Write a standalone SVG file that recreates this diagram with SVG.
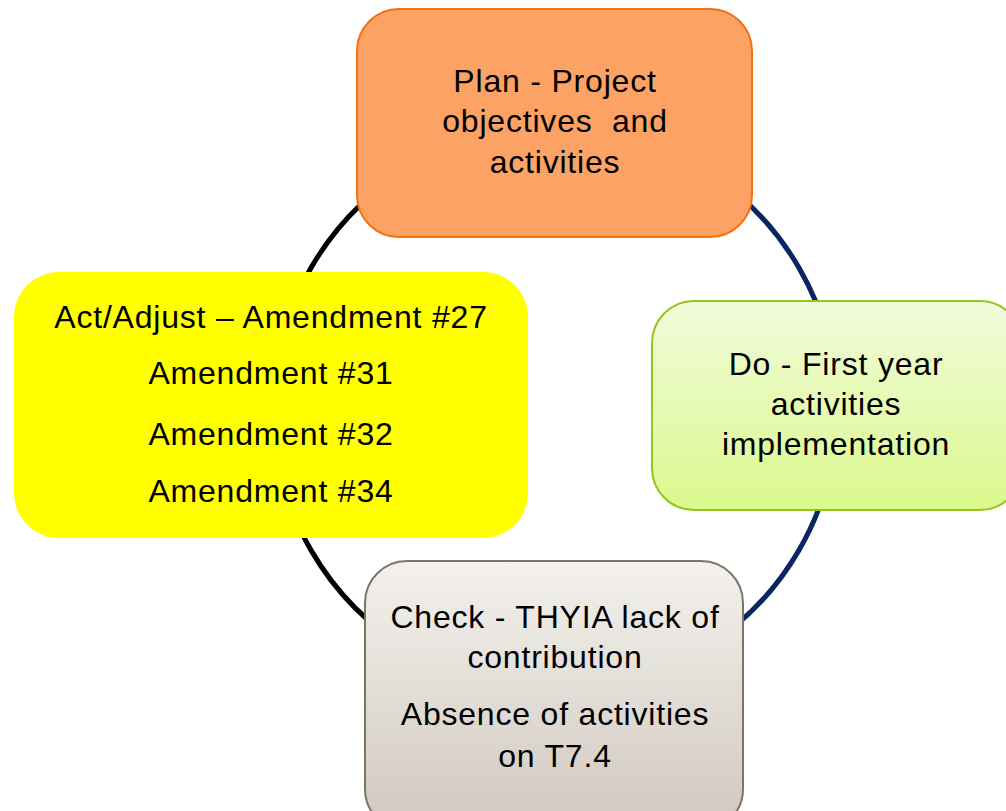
<svg xmlns="http://www.w3.org/2000/svg" width="1006" height="811" viewBox="0 0 1006 811">
<defs>
<linearGradient id="gDo" x1="0" y1="0" x2="0" y2="1">
<stop offset="0" stop-color="#F1FBDA"/>
<stop offset="1" stop-color="#DBF98C"/>
</linearGradient>
<linearGradient id="gCheck" x1="0" y1="0" x2="0" y2="1">
<stop offset="0" stop-color="#F3F1ED"/>
<stop offset="1" stop-color="#D0C8BF"/>
</linearGradient>
<style>
.t{font-family:"Liberation Sans",Arial,sans-serif;font-size:32px;fill:#000;text-anchor:middle;letter-spacing:0.8px;white-space:pre}
.dark{fill:none;stroke:#000;stroke-width:5}
.navy{fill:none;stroke:#0B2463;stroke-width:5}
</style>
</defs>
<rect width="1006" height="811" fill="#fff"/>
<g id="connectors">
<path class="navy" d="M696,165 A282,282 0 0 1 837,409"/>
<path class="navy" d="M837,409 A282,282 0 0 1 696,653"/>
<path class="dark" d="M414,653 A282,282 0 0 1 273,409"/>
<path class="dark" d="M273,409 A282,282 0 0 1 414,165"/>
</g>
<g id="plan">
<rect x="357" y="9" width="395" height="228" rx="42" fill="#FBA264" stroke="#F5700F" stroke-width="2"/>
<text class="t" x="555" y="92">Plan - Project</text>
<text class="t" x="555" y="132">objectives  and</text>
<text class="t" x="555" y="173">activities</text>
</g>
<g id="do">
<rect x="652" y="301" width="370" height="209" rx="42" fill="url(#gDo)" stroke="#93C51D" stroke-width="2"/>
<text class="t" x="836" y="375">Do - First year</text>
<text class="t" x="836" y="415">activities</text>
<text class="t" x="836" y="455">implementation</text>
</g>
<g id="check">
<rect x="365" y="561" width="378" height="270" rx="42" fill="url(#gCheck)" stroke="#7D7468" stroke-width="2"/>
<text class="t" x="555" y="628">Check - THYIA lack of</text>
<text class="t" x="555" y="668">contribution</text>
<text class="t" x="555" y="725">Absence of activities</text>
<text class="t" x="555" y="767">on T7.4</text>
</g>
<g id="act">
<rect x="14" y="272" width="514" height="266" rx="45" fill="#FFFF00"/>
<text class="t" x="271" y="328">Act/Adjust – Amendment #27</text>
<text class="t" x="271" y="384">Amendment #31</text>
<text class="t" x="271" y="445">Amendment #32</text>
<text class="t" x="271" y="502">Amendment #34</text>
</g>
</svg>
